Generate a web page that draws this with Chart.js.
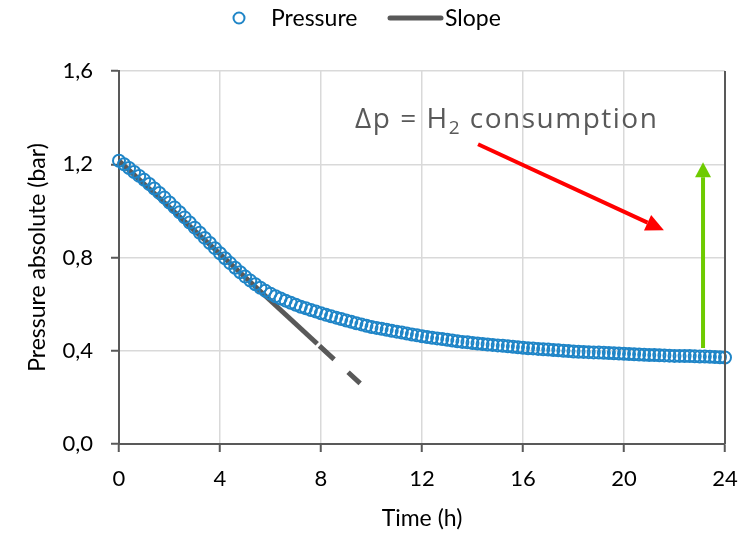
<!DOCTYPE html>
<html lang="en">
<head>
    <meta charset="UTF-8">
    <title>Pressure vs time</title>
    <script src="https://cdn.jsdelivr.net/npm/chart.js"></script>
    <style>
        html, body { margin: 0; padding: 0; background: #fff; }
        #box { width: 746px; height: 534px; }
    </style>
</head>
<body>
    <div id="box"><canvas id="myChart" width="746" height="534"></canvas></div>

    <script>
        // time (h) of each reading
        const times = [
            0, 0.2, 0.4, 0.6, 0.8, 1, 1.2, 1.4, 1.6, 1.8,
            2, 2.2, 2.4, 2.6, 2.8, 3, 3.2, 3.4, 3.6, 3.8,
            4, 4.2, 4.4, 4.6, 4.8, 5, 5.2, 5.4, 5.6, 5.8,
            6, 6.2, 6.4, 6.6, 6.8, 7, 7.2, 7.4, 7.6, 7.8,
            8, 8.2, 8.4, 8.6, 8.8, 9, 9.2, 9.4, 9.6, 9.8,
            10, 10.2, 10.4, 10.6, 10.8, 11, 11.2, 11.4, 11.6, 11.8,
            12, 12.2, 12.4, 12.6, 12.8, 13, 13.2, 13.4, 13.6, 13.8,
            14, 14.2, 14.4, 14.6, 14.8, 15, 15.2, 15.4, 15.6, 15.8,
            16, 16.2, 16.4, 16.6, 16.8, 17, 17.2, 17.4, 17.6, 17.8,
            18, 18.2, 18.4, 18.6, 18.8, 19, 19.2, 19.4, 19.6, 19.8,
            20, 20.2, 20.4, 20.6, 20.8, 21, 21.2, 21.4, 21.6, 21.8,
            22, 22.2, 22.4, 22.6, 22.8, 23, 23.2, 23.4, 23.6, 23.8,
            24
        ];

        // absolute pressure (bar)
        const pressure = [
            1.215, 1.200, 1.184, 1.167, 1.150, 1.133, 1.115, 1.096, 1.077, 1.057,
            1.036, 1.015, 0.994, 0.972, 0.950, 0.928, 0.906, 0.884, 0.862, 0.840,
            0.818, 0.797, 0.776, 0.756, 0.737, 0.718, 0.701, 0.685, 0.670, 0.657,
            0.645, 0.634, 0.624, 0.615, 0.606, 0.597, 0.589, 0.582, 0.575, 0.568,
            0.561, 0.554, 0.548, 0.542, 0.536, 0.530, 0.524, 0.518, 0.513, 0.507,
            0.502, 0.498, 0.494, 0.490, 0.486, 0.482, 0.478, 0.474, 0.470, 0.466,
            0.462, 0.459, 0.456, 0.453, 0.450, 0.447, 0.444, 0.441, 0.438, 0.436,
            0.433, 0.431, 0.429, 0.427, 0.425, 0.423, 0.421, 0.419, 0.417, 0.415,
            0.413, 0.411, 0.410, 0.408, 0.406, 0.405, 0.403, 0.402, 0.400, 0.399,
            0.397, 0.396, 0.395, 0.394, 0.393, 0.392, 0.391, 0.390, 0.389, 0.388,
            0.387, 0.386, 0.385, 0.384, 0.383, 0.382, 0.382, 0.381, 0.380, 0.379,
            0.378, 0.378, 0.377, 0.377, 0.376, 0.375, 0.375, 0.374, 0.373, 0.372,
            0.371
        ];

        // initial slope line: solid part then dashed extension
        const slopeTimes = [0, 7.85, 9.55];
        const slopeValues = [1.215, 0.43, 0.26];

        // annotation positions in data units (h, bar)
        const labelAt = { x: 9.35, y: 1.354 };
        const redArrow = { from: [14.22, 1.286], to: [21.58, 0.917] };
        const greenArrow = { from: [23.13, 0.412], to: [23.13, 1.209] };

        const yTicks = [0, 0.4, 0.8, 1.2, 1.6];

        const axisFont = 'Lato';
        const gray = '#595959';
        const blue = '#1f85c7';

        function arrow(ctx, x1, y1, x2, y2, color, lw, headLen, headW) {
            const a = Math.atan2(y2 - y1, x2 - x1);
            const bx = x2 - headLen * Math.cos(a);
            const by = y2 - headLen * Math.sin(a);
            ctx.save();
            ctx.strokeStyle = color;
            ctx.fillStyle = color;
            ctx.lineWidth = lw;
            ctx.beginPath();
            ctx.moveTo(x1, y1);
            ctx.lineTo(bx, by);
            ctx.stroke();
            ctx.beginPath();
            ctx.moveTo(x2, y2);
            ctx.lineTo(bx + headW / 2 * Math.sin(a), by - headW / 2 * Math.cos(a));
            ctx.lineTo(bx - headW / 2 * Math.sin(a), by + headW / 2 * Math.cos(a));
            ctx.closePath();
            ctx.fill();
            ctx.restore();
        }

        const extras = {
            id: 'extras',
            afterDatasetsDraw(chart) {
                const ctx = chart.ctx;
                const xs = chart.scales.x, ys = chart.scales.y;
                const area = chart.chartArea;

                // right border
                ctx.save();
                ctx.strokeStyle = gray;
                ctx.lineWidth = 2;
                ctx.beginPath();
                ctx.moveTo(area.right, area.top);
                ctx.lineTo(area.right, area.bottom);
                ctx.stroke();
                ctx.restore();

                arrow(ctx,
                    xs.getPixelForValue(redArrow.from[0]), ys.getPixelForValue(redArrow.from[1]),
                    xs.getPixelForValue(redArrow.to[0]), ys.getPixelForValue(redArrow.to[1]),
                    '#ff0000', 4, 18, 17);
                arrow(ctx,
                    xs.getPixelForValue(greenArrow.from[0]), ys.getPixelForValue(greenArrow.from[1]),
                    xs.getPixelForValue(greenArrow.to[0]), ys.getPixelForValue(greenArrow.to[1]),
                    '#6ecb00', 4, 15, 16);

                // Δp = H2 consumption
                ctx.save();
                ctx.fillStyle = gray;
                ctx.textBaseline = 'alphabetic';
                ctx.textAlign = 'left';
                ctx.letterSpacing = '1.5px';
                let x = xs.getPixelForValue(labelAt.x);
                const y = ys.getPixelForValue(labelAt.y);
                ctx.font = '28px "Open Sans"';
                ctx.fillText('Δp = H', x, y);
                x += ctx.measureText('Δp = H').width;
                ctx.font = '19px "Open Sans"';
                ctx.fillText('2', x, y + 6);
                x += ctx.measureText('2').width;
                ctx.font = '28px "Open Sans"';
                ctx.fillText(' consumption', x, y);
                ctx.restore();
            },
            afterDraw(chart) {
                // legend row
                const ctx = chart.ctx;
                ctx.save();
                ctx.strokeStyle = blue;
                ctx.lineWidth = 2;
                ctx.beginPath();
                ctx.arc(239, 18, 5.5, 0, Math.PI * 2);
                ctx.stroke();
                ctx.fillStyle = '#000';
                ctx.font = '23px ' + axisFont;
                ctx.textBaseline = 'middle';
                ctx.fillText('Pressure', 271, 19);
                ctx.strokeStyle = gray;
                ctx.lineWidth = 5;
                ctx.lineCap = 'round';
                ctx.beginPath();
                ctx.moveTo(390, 18);
                ctx.lineTo(441, 18);
                ctx.stroke();
                ctx.fillText('Slope', 445, 19);
                ctx.restore();
            }
        };

        const ctx = document.getElementById('myChart').getContext('2d');
        const myChart = new Chart(ctx, {
            type: 'line',
            data: {
                datasets: [
                    {
                        label: 'Pressure',
                        data: times.map((t, i) => ({ x: t, y: pressure[i] })),
                        showLine: false,
                        pointStyle: 'circle',
                        pointRadius: 6,
                        pointBorderWidth: 2,
                        pointBorderColor: blue,
                        pointBackgroundColor: 'rgba(0,0,0,0)',
                        borderColor: blue,
                        clip: false,
                        order: 0
                    },
                    {
                        label: 'Slope',
                        data: slopeTimes.map((t, i) => ({ x: t, y: slopeValues[i] })),
                        borderColor: gray,
                        borderWidth: 5,
                        pointRadius: 0,
                        tension: 0,
                        segment: {
                            borderDash: c => c.p0DataIndex === 1 ? [20, 19] : undefined,
                            borderDashOffset: c => c.p0DataIndex === 1 ? 36 : undefined
                        },
                        order: 1
                    }
                ]
            },
            options: {
                responsive: false,
                animation: false,
                layout: { padding: { top: 71, right: 21, left: 0, bottom: 0 } },
                plugins: {
                    legend: { display: false },
                    tooltip: { enabled: false }
                },
                scales: {
                    x: {
                        type: 'linear',
                        min: 0,
                        max: 24,
                        afterFit: s => { s.height = 90; },
                        ticks: {
                            stepSize: 4,
                            color: '#000',
                            padding: 2,
                            font: { family: axisFont, size: 22, lineHeight: '50px' }
                        },
                        grid: { color: '#d9d9d9', lineWidth: 1.5, tickColor: gray, tickLength: 8, tickWidth: 2 },
                        border: { color: gray, width: 2 },
                        title: {
                            display: true,
                            text: 'Time (h)',
                            color: '#000',
                            font: { family: axisFont, size: 23 },
                            padding: { top: 0, bottom: 2 }
                        }
                    },
                    y: {
                        min: 0,
                        max: 1.6,
                        afterFit: s => { s.width = 119; },
                        afterBuildTicks: s => { s.ticks = yTicks.map(v => ({ value: v })); },
                        ticks: {
                            color: '#000',
                            padding: 18,
                            font: { family: axisFont, size: 22 },
                            callback: v => v.toFixed(1).replace('.', ',')
                        },
                        grid: { color: '#d9d9d9', lineWidth: 1.5, tickColor: gray, tickLength: 8, tickWidth: 2 },
                        border: { color: gray, width: 2 },
                        title: {
                            display: true,
                            text: 'Pressure absolute (bar)',
                            color: '#000',
                            font: { family: axisFont, size: 23 },
                            padding: { top: 24, bottom: 0 }
                        }
                    }
                }
            },
            plugins: [extras]
        });
    </script>
</body>
</html>
